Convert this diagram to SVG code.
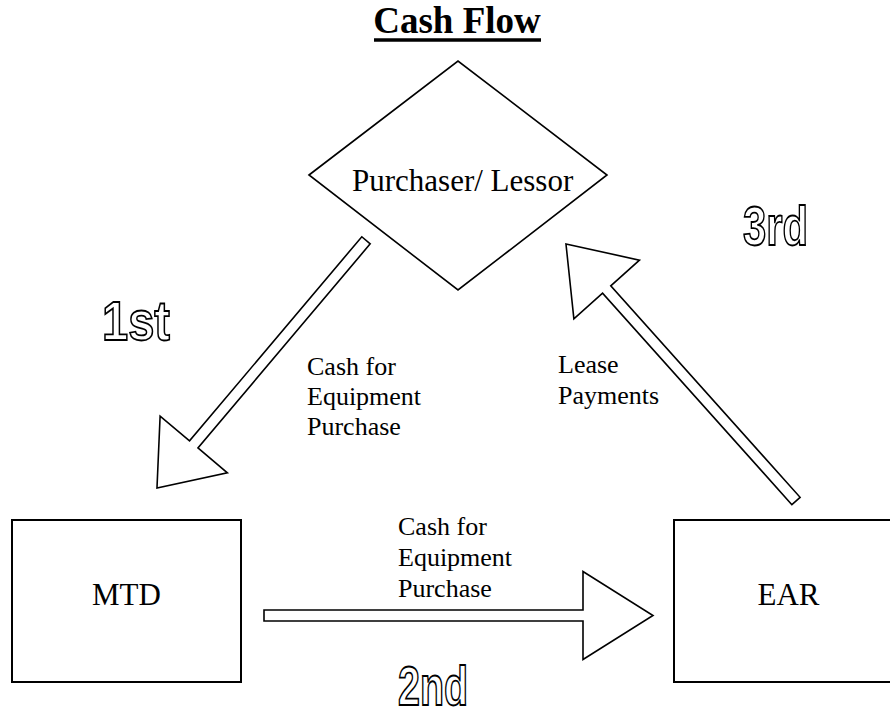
<svg xmlns="http://www.w3.org/2000/svg" width="890" height="711" viewBox="0 0 890 711">
<style>
.bg{fill:#fff}
.node{fill:#fff;stroke:#000;stroke-width:2}
.dia{fill:#fff;stroke:#000;stroke-width:1.6}
.arrow{fill:#fff;stroke:#000;stroke-width:1.6;stroke-linejoin:miter}
.ntext{font-family:"Liberation Serif","Times New Roman",serif;font-size:31px;fill:#000}
.lbl{font-family:"Liberation Serif","Times New Roman",serif;font-size:26px;fill:#000}
.title{font-family:"Liberation Serif","Times New Roman",serif;font-size:37px;font-weight:bold;fill:#000}
.step{font-family:"Liberation Sans",Arial,sans-serif;font-size:56px;font-weight:bold;fill:#fff;stroke:#000;stroke-width:1.8}
</style>
<rect class="bg" x="0" y="0" width="890" height="711"/>
<g id="title">
<text class="title" x="457" y="33" text-anchor="middle">Cash Flow</text>
<line x1="374" y1="40" x2="541" y2="40" stroke="#000" stroke-width="3.5"/>
</g>
<g id="connectors">
<polygon id="arrow-1st" class="arrow" transform="translate(366,240.3) rotate(130.16)" points="0,-5.5 267.1,-5.5 267.1,-44 324.1,0 267.1,44 267.1,5.5 0,5.5"/>
<polygon id="arrow-2nd" class="arrow" transform="translate(264,615.5)" points="0,-5.5 319,-5.5 319,-44 389,0 319,44 319,5.5 0,5.5"/>
<polygon id="arrow-3rd" class="arrow" transform="translate(796,501) rotate(-131.83)" points="0,-5.5 283.9,-5.5 283.9,-44 344.9,0 283.9,44 283.9,5.5 0,5.5"/>
</g>
<g id="node-purchaser">
<polygon class="dia" points="309,175 458,61 607,175 458,290"/>
<text class="ntext" x="352" y="191">Purchaser/ Lessor</text>
</g>
<g id="node-mtd">
<rect class="node" x="12" y="520" width="229" height="162"/>
<text class="ntext" x="126.5" y="605" text-anchor="middle">MTD</text>
</g>
<g id="node-ear">
<rect class="node" x="674" y="520" width="229" height="162"/>
<text class="ntext" x="788.5" y="605" text-anchor="middle">EAR</text>
</g>
<g id="edge-labels">
<text class="lbl" x="307" y="375">Cash for<tspan x="307" y="405">Equipment</tspan><tspan x="307" y="435">Purchase</tspan></text>
<text class="lbl" x="398" y="535">Cash for<tspan x="398" y="566">Equipment</tspan><tspan x="398" y="597">Purchase</tspan></text>
<text class="lbl" x="558" y="373">Lease<tspan x="558" y="404">Payments</tspan></text>
</g>
<g id="step-labels">
<text class="step" x="102" y="340" textLength="68" lengthAdjust="spacingAndGlyphs">1st</text>
<text class="step" x="398" y="705" textLength="70" lengthAdjust="spacingAndGlyphs">2nd</text>
<text class="step" x="743" y="245" textLength="65" lengthAdjust="spacingAndGlyphs">3rd</text>
</g>
</svg>
